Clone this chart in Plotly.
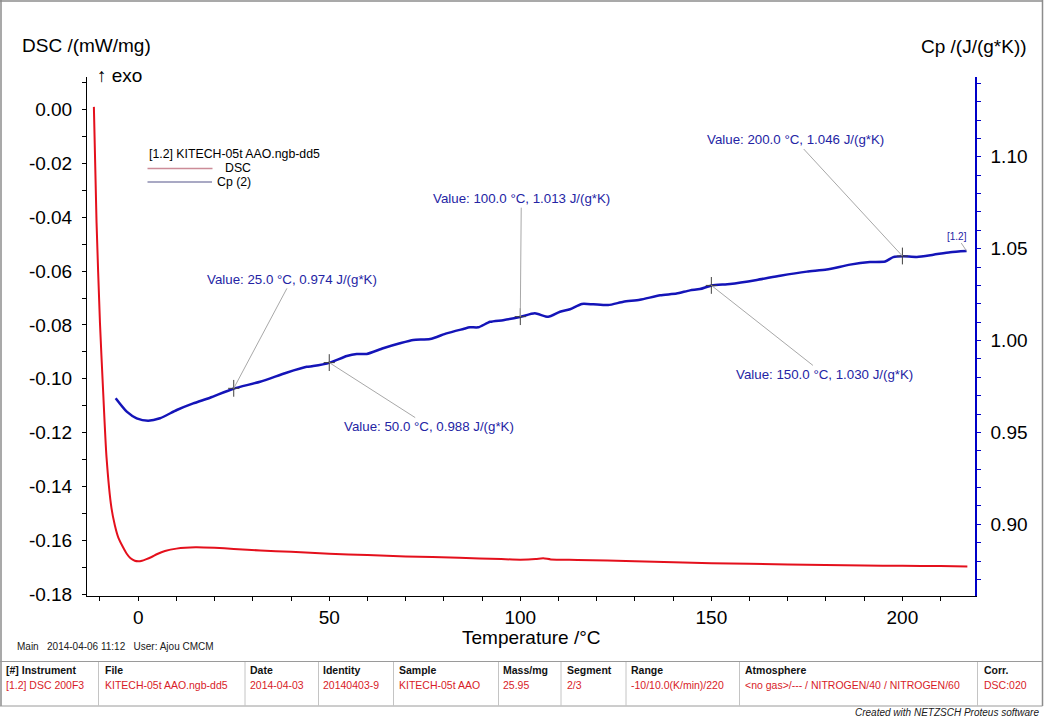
import plotly.graph_objects as go

# ---------------- data ----------------
dsc_temp = [-11.6, -10.9, -10.0, -9.2, -8.3, -7.0, -6.1, -5.2, -4.0, -3.0, -2.0, -0.9, 0.0,
            1.0, 2.0, 3.5, 5.0, 7.0, 10.0, 15.0, 20.0, 25.0, 32.0, 40.0, 50.0, 60.0, 70.0,
            84.0, 95.0, 100.0, 104.0, 106.0, 108.0, 115.0, 130.0, 150.0, 170.0, 190.0, 200.0,
            210.0, 217.0]
dsc_val = [0.001, -0.042, -0.0795, -0.104, -0.129, -0.148, -0.1545, -0.159, -0.1625, -0.165,
           -0.1667, -0.1676, -0.1678, -0.1676, -0.1671, -0.1662, -0.1651, -0.1640, -0.1631,
           -0.1626, -0.1628, -0.1632, -0.1638, -0.1643, -0.1650, -0.1655, -0.1660, -0.1665,
           -0.1670, -0.1672, -0.1670, -0.1667, -0.1671, -0.1673, -0.1678, -0.1685, -0.1690,
           -0.1694, -0.1695, -0.1696, -0.1697]

cp_temp = [-5.9, -3.0, -0.4, 2.6, 5.7, 10.1, 14.4, 18.8, 24.9, 31.9, 38.8, 44.1, 45.8, 50.2,
           54.6, 57.2, 59.8, 64.1, 68.5, 72.0, 76.4, 80.7, 85.1, 86.8, 89.0, 92.1, 95.5, 99.9,
           103.8, 107.3, 110.4, 113.0, 116.1, 119.1, 123.0, 127.0, 131.3, 136.6, 140.9, 144.4,
           147.0, 150.1, 154.9, 161.9, 168.0, 175.0, 180.2, 186.3, 191.5, 195.5, 197.6, 200.1,
           203.8, 208.1, 212.5, 216.8]
cp_val = [0.9686, 0.9613, 0.9577, 0.9564, 0.9577, 0.9622, 0.9658, 0.9689, 0.9738, 0.9776,
          0.9825, 0.9857, 0.9861, 0.9880, 0.9916, 0.9927, 0.9927, 0.9958, 0.9985, 1.0003,
          1.0008, 1.0039, 1.0063, 1.0072, 1.0072, 1.0102, 1.0111, 1.0128, 1.0148, 1.0129,
          1.0157, 1.0170, 1.0199, 1.0197, 1.0193, 1.0211, 1.0222, 1.0246, 1.0256, 1.0273,
          1.0280, 1.0300, 1.0308, 1.0330, 1.0353, 1.0375, 1.0386, 1.0413, 1.0427, 1.0430,
          1.0454, 1.0459, 1.0455, 1.0467, 1.0481, 1.0487]

mark_temp = [25.0, 50.0, 100.0, 150.0, 200.0]
mark_cp = [0.974, 0.988, 1.013, 1.030, 1.046]

dsc_tick_vals = [0.0, -0.02, -0.04, -0.06, -0.08, -0.10, -0.12, -0.14, -0.16, -0.18]
dsc_tick_text = ["0.00", "-0.02", "-0.04", "-0.06", "-0.08", "-0.10", "-0.12", "-0.14",
                 "-0.16", "-0.18"]

table_header = ["[#] Instrument", "File", "Date", "Identity", "Sample", "Mass/mg",
                "Segment", "Range", "Atmosphere", "Corr."]
table_row = ["[1.2] DSC 200F3", "KITECH-05t AAO.ngb-dd5", "2014-04-03", "20140403-9",
             "KITECH-05t AAO", "25.95", "2/3", "-10/10.0(K/min)/220",
             "<no gas>/--- / NITROGEN/40 / NITROGEN/60", "DSC:020"]

# ---------------- layout helpers ----------------
W, H = 1048, 720
FONT = "Liberation Sans, Arial, sans-serif"


def px(x):
    return x / W


def py(y):
    return 1 - y / H


fig = go.Figure()
fig.add_trace(go.Scatter(x=dsc_temp, y=dsc_val, mode="lines", yaxis="y",
                         line=dict(color="#e4101c", width=2, shape="spline", smoothing=0.6),
                         showlegend=False, hoverinfo="skip"))
fig.add_trace(go.Scatter(x=cp_temp, y=cp_val, mode="lines", yaxis="y2",
                         line=dict(color="#1414b8", width=2.5, shape="spline", smoothing=0.6),
                         showlegend=False, hoverinfo="skip"))
fig.add_trace(go.Scatter(x=mark_temp, y=mark_cp, mode="markers", yaxis="y2",
                         marker=dict(symbol="line-ns", size=12,
                                     line=dict(color="#404040", width=1)),
                         showlegend=False, hoverinfo="skip"))
fig.add_trace(go.Scatter(x=mark_temp, y=mark_cp, mode="markers", yaxis="y2",
                         marker=dict(symbol="line-ew", size=8,
                                     line=dict(color="#404040", width=1)),
                         showlegend=False, hoverinfo="skip"))

annotations = []
# value annotations with leader lines (offsets in pixels: text centre - point)
offsets = [(58, -109), (100, 64), (1, -118), (113, 89), (-107, -116)]
for t, c, (ax, ay) in zip(mark_temp, mark_cp, offsets):
    annotations.append(dict(
        x=t, y=c, xref="x", yref="y2", ax=ax, ay=ay, axref="pixel", ayref="pixel",
        text=f"Value: {t:.1f} °C, {c:.3f} J/(g*K)", showarrow=True, arrowhead=0,
        arrowwidth=1, arrowcolor="#a8a8a8", standoff=0, startstandoff=0,
        font=dict(family=FONT, size=13.3, color="#2424a4")))
# [1.2] end label
annotations.append(dict(
    x=cp_temp[-1], y=cp_val[-1], xref="x", yref="y2", ax=-10, ay=-15,
    text="[1.2]", showarrow=True, arrowhead=0, arrowwidth=1, arrowcolor="#a8a8a8",
    font=dict(family=FONT, size=10, color="#2424a4")))

# axis titles
annotations += [
    dict(x=px(20), y=py(45), xref="paper", yref="paper", xanchor="left", yanchor="middle",
         text="DSC /(mW/mg)", showarrow=False, font=dict(family=FONT, size=19, color="black")),
    dict(x=px(95), y=py(76), xref="paper", yref="paper", xanchor="left", yanchor="middle",
         text="↑ exo", showarrow=False, font=dict(family=FONT, size=19, color="black")),
    dict(x=px(1029), y=py(46), xref="paper", yref="paper", xanchor="right", yanchor="middle",
         text="Cp /(J/(g*K))", showarrow=False, font=dict(family=FONT, size=19, color="black")),
    dict(x=px(531), y=py(637), xref="paper", yref="paper", xanchor="center", yanchor="middle",
         text="Temperature /°C", showarrow=False, font=dict(family=FONT, size=19, color="black")),
]

# legend block
annotations += [
    dict(x=px(147), y=py(154), xref="paper", yref="paper", xanchor="left", yanchor="middle",
         text="[1.2] KITECH-05t AAO.ngb-dd5", showarrow=False,
         font=dict(family=FONT, size=12.3, color="black")),
    dict(x=px(253), y=py(168.5), xref="paper", yref="paper", xanchor="right", yanchor="middle",
         text="DSC", showarrow=False, font=dict(family=FONT, size=12.3, color="black")),
    dict(x=px(253), y=py(182), xref="paper", yref="paper", xanchor="right", yanchor="middle",
         text="Cp (2)", showarrow=False, font=dict(family=FONT, size=12.3, color="black")),
]

# footer
annotations.append(dict(x=px(15), y=py(646.5), xref="paper", yref="paper", xanchor="left",
                        yanchor="middle", text="Main   2014-04-06 11:12   User: Ajou CMCM",
                        showarrow=False, font=dict(family=FONT, size=10, color="#202020")))
annotations.append(dict(x=px(1041), y=py(712.5), xref="paper", yref="paper", xanchor="right",
                        yanchor="middle", text="<i>Created with NETZSCH Proteus software</i>",
                        showarrow=False, font=dict(family=FONT, size=10, color="#202020")))

col_x = [4, 103, 248, 321, 397, 501, 565, 629, 743, 982]
sep_x = [98.5, 245, 318.5, 393.5, 498.5, 561, 626, 739.5, 977.5]
for x, h, v in zip(col_x, table_header, table_row):
    annotations.append(dict(x=px(x), y=py(669.5), xref="paper", yref="paper", xanchor="left",
                            yanchor="middle", text=f"<b>{h}</b>", showarrow=False,
                            font=dict(family=FONT, size=10.5, color="#111111")))
    annotations.append(dict(x=px(x), y=py(684.5), xref="paper", yref="paper", xanchor="left",
                            yanchor="middle", text=v.replace("<", "&lt;").replace(">", "&gt;"),
                            showarrow=False, font=dict(family=FONT, size=10.5, color="#d81c28")))

shapes = []
border = dict(color="#8c8c8c", width=1.5)
# outer frame
shapes.append(dict(type="line", xref="paper", yref="paper", x0=px(0), x1=px(1042.5),
                   y0=py(1), y1=py(1), line=border))
shapes.append(dict(type="line", xref="paper", yref="paper", x0=px(1), x1=px(1),
                   y0=py(0), y1=py(706), line=border))
shapes.append(dict(type="line", xref="paper", yref="paper", x0=px(1042.5), x1=px(1042.5),
                   y0=py(0), y1=py(706), line=border))
# table lines
tline = dict(color="#9a9a9a", width=1)
for yy in (661.5, 706):
    shapes.append(dict(type="line", xref="paper", yref="paper", x0=px(0), x1=px(1042.5),
                       y0=py(yy), y1=py(yy), line=tline))
for xx in sep_x:
    shapes.append(dict(type="line", xref="paper", yref="paper", x0=px(xx), x1=px(xx),
                       y0=py(662), y1=py(706), line=dict(color="#c4c4c4", width=1)))
# legend lines
shapes.append(dict(type="line", xref="paper", yref="paper", x0=px(147.5), x1=px(212.5),
                   y0=py(168.5), y1=py(168.5), line=dict(color="#cc8c98", width=1.5)))
shapes.append(dict(type="line", xref="paper", yref="paper", x0=px(147.5), x1=px(212),
                   y0=py(182), y1=py(182), line=dict(color="#8c8cb0", width=1.5)))

tickfont = dict(family=FONT, size=19, color="black")
fig.update_layout(
    width=W, height=H,
    margin=dict(l=0, r=0, t=0, b=0, pad=0, autoexpand=False),
    paper_bgcolor="white", plot_bgcolor="white",
    showlegend=False,
    xaxis=dict(domain=[px(87), px(975)], range=[-13.4, 219], tick0=0, dtick=50,
               ticks="outside", ticklen=4, tickcolor="black", showline=True,
               linecolor="black", linewidth=1, showgrid=False, zeroline=False,
               tickfont=tickfont, anchor="y",
               minor=dict(dtick=10, tick0=0, ticks="outside", ticklen=4, tickcolor="black",
                          showgrid=False)),
    yaxis=dict(domain=[1 - 596 / H, 1 - 77 / H], range=[-0.1807, 0.0121],
               tickmode="array", tickvals=dsc_tick_vals, ticktext=dsc_tick_text,
               ticks="outside", ticklen=4, tickcolor="black",
               showline=True, linecolor="black", linewidth=1, showgrid=False,
               zeroline=False, tickfont=tickfont, ticklabelstandoff=6, anchor="x",
               minor=dict(tickmode="linear", dtick=0.01, tick0=0, ticks="outside", ticklen=4,
                          tickcolor="black", showgrid=False)),
    yaxis2=dict(overlaying="y", side="right", anchor="x", range=[0.861, 1.1434],
                tick0=0.9, dtick=0.05, tickformat=".2f", ticks="outside", ticklen=4,
                tickcolor="#0000c8", showline=True, linecolor="#0000c8", linewidth=1.5,
                showgrid=False, zeroline=False, tickfont=tickfont, ticklabelstandoff=6,
                minor=dict(dtick=0.01, tick0=0.9, ticks="outside", ticklen=4,
                           tickcolor="#0000c8", showgrid=False)),
    annotations=annotations,
    shapes=shapes,
)

fig.write_html("out.html", config={"displayModeBar": False},
               post_script="document.body.style.margin='0';document.body.style.padding='0';")
